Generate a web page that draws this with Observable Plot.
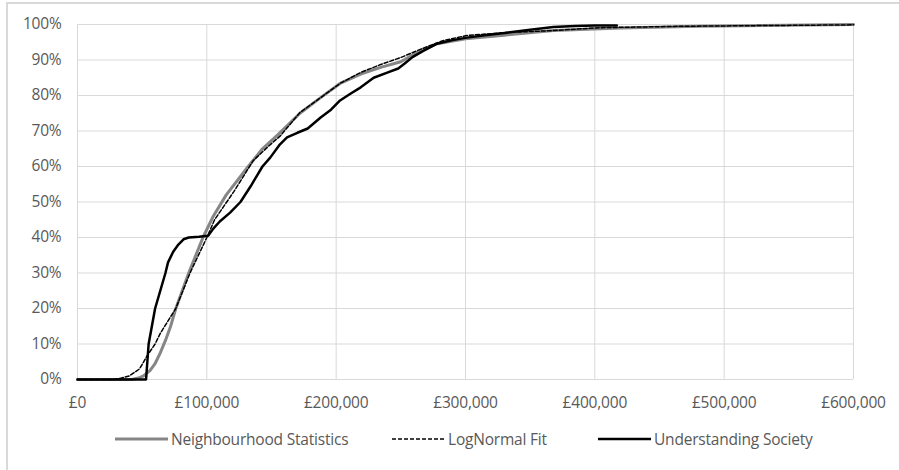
<!DOCTYPE html>
<html>
<head>
<meta charset="utf-8">
<script src="https://cdn.jsdelivr.net/npm/d3@7"></script>
<script src="https://cdn.jsdelivr.net/npm/@observablehq/plot@0.6"></script>
<style>
  body { margin: 0; background: #fff; font-family: "Open Sans", sans-serif; }
  #frame { position: absolute; left: 6px; top: 2px; width: 893px; height: 468px;
           border-top: 2px solid #d9d9d9; border-left: 2px solid #d9d9d9; box-sizing: border-box; }
  #chart { position: absolute; left: 0; top: 0; width: 899px; }
  #legend { position: relative; height: 50px; }
  .item { position: absolute; top: 8px; display: flex; align-items: center; font-size: 15.5px; color: #595959; white-space: nowrap; letter-spacing: -0.2px; }
  .item svg { margin-right: 3px; }
</style>
</head>
<body>
<div id="frame"></div>
<div id="chart"></div>
<script>
// Neighbourhood Statistics (grey)
const nsX = [0, 42000, 48000, 51000, 56000, 60000, 64000, 68000, 72000, 76000, 86000, 97000, 105000, 115000, 132000, 143000, 155000, 172000, 188000, 203000, 219000, 235000, 250000, 262000, 278000, 300000, 330000, 368000, 420000, 480000, 600000];
const nsY = [0, 0, 0.005, 0.01, 0.025, 0.045, 0.075, 0.11, 0.15, 0.20, 0.30, 0.40, 0.46, 0.52, 0.60, 0.65, 0.69, 0.75, 0.794, 0.834, 0.86, 0.88, 0.895, 0.92, 0.946, 0.96, 0.97, 0.983, 0.99, 0.995, 1.0];

// LogNormal Fit (dashed)
const lnX = [0, 28000, 34000, 40000, 48000, 54000, 60000, 64000, 76000, 87000, 100000, 106000, 121000, 136000, 147000, 157000, 172000, 188000, 203000, 219000, 235000, 250000, 265000, 283000, 301000, 330000, 368000, 404000, 468000, 530000, 600000];
const lnY = [0, 0, 0.004, 0.01, 0.03, 0.068, 0.10, 0.13, 0.20, 0.30, 0.40, 0.45, 0.53, 0.617, 0.655, 0.687, 0.752, 0.794, 0.834, 0.865, 0.888, 0.907, 0.93, 0.955, 0.969, 0.977, 0.983, 0.991, 0.995, 0.997, 0.999];

// Understanding Society (black)
const usX = [0, 53000, 54000, 55000, 60000, 68000, 70000, 74000, 78000, 82000, 86000, 94000, 101000, 105000, 110000, 118000, 126000, 134000, 143000, 149000, 156000, 162000, 170000, 178000, 188000, 196000, 203000, 211000, 219000, 229000, 240000, 248000, 253000, 259000, 267000, 278000, 290000, 301000, 315000, 332000, 350000, 368000, 385000, 400000, 417000];
const usY = [0, 0, 0.05, 0.10, 0.20, 0.30, 0.33, 0.36, 0.38, 0.395, 0.40, 0.402, 0.405, 0.425, 0.445, 0.47, 0.50, 0.545, 0.60, 0.625, 0.66, 0.682, 0.695, 0.707, 0.738, 0.76, 0.786, 0.805, 0.823, 0.85, 0.865, 0.876, 0.89, 0.908, 0.925, 0.946, 0.956, 0.963, 0.97, 0.977, 0.985, 0.993, 0.996, 0.997, 0.997];

const xTicks = [0, 100000, 200000, 300000, 400000, 500000, 600000];
const yTicks = [0, 0.1, 0.2, 0.3, 0.4, 0.5, 0.6, 0.7, 0.8, 0.9, 1.0];

const seriesNames = ["Neighbourhood Statistics", "LogNormal Fit", "Understanding Society"];

const toRows = (xs, ys) => xs.map((x, i) => ({x, y: ys[i]}));
const ns = toRows(nsX, nsY), ln = toRows(lnX, lnY), us = toRows(usX, usY);

const fmtX = d => "£" + d3.format(",")(d);

const plot = Plot.plot({
  width: 899,
  height: 420,
  marginLeft: 77,
  marginRight: 46,
  marginTop: 24,
  marginBottom: 41,
  style: { fontFamily: "Open Sans, sans-serif", fontSize: "15.5px", color: "#595959", background: "transparent", letterSpacing: "-0.2px" },
  x: { domain: [0, 600000], ticks: xTicks, tickFormat: fmtX, label: null, tickSize: 0, tickPadding: 17 },
  y: { domain: [0, 1], ticks: yTicks, tickFormat: d3.format(".0%"), label: null, tickSize: 0, tickPadding: 16 },
  marks: [
    Plot.gridX(xTicks, { stroke: "#d9d9d9", strokeOpacity: 1 }),
    Plot.gridY(yTicks, { stroke: "#d9d9d9", strokeOpacity: 1 }),
    Plot.line(ns, { x: "x", y: "y", stroke: "#868686", strokeWidth: 3 }),
    Plot.line(ln, { x: "x", y: "y", stroke: "#000", strokeWidth: 1.5, strokeDasharray: "4,2" }),
    Plot.line(us, { x: "x", y: "y", stroke: "#000", strokeWidth: 2.5 })
  ]
});

const chart = document.getElementById("chart");
chart.appendChild(plot);

const legend = document.createElement("div");
legend.id = "legend";
const items = [
  { name: seriesNames[0], left: 115, stroke: "#868686", w: 3, dash: null },
  { name: seriesNames[1], left: 392, stroke: "#000", w: 1.5, dash: "4,2" },
  { name: seriesNames[2], left: 598, stroke: "#000", w: 2.5, dash: null }
];
for (const it of items) {
  const d = document.createElement("div");
  d.className = "item";
  d.style.left = it.left + "px";
  d.innerHTML = `<svg width="53" height="10"><line x1="0" x2="53" y1="5" y2="5" stroke="${it.stroke}" stroke-width="${it.w}" ${it.dash ? `stroke-dasharray="${it.dash}"` : ""}/></svg><span>${it.name}</span>`;
  legend.appendChild(d);
}
chart.appendChild(legend);
</script>
</body>
</html>
